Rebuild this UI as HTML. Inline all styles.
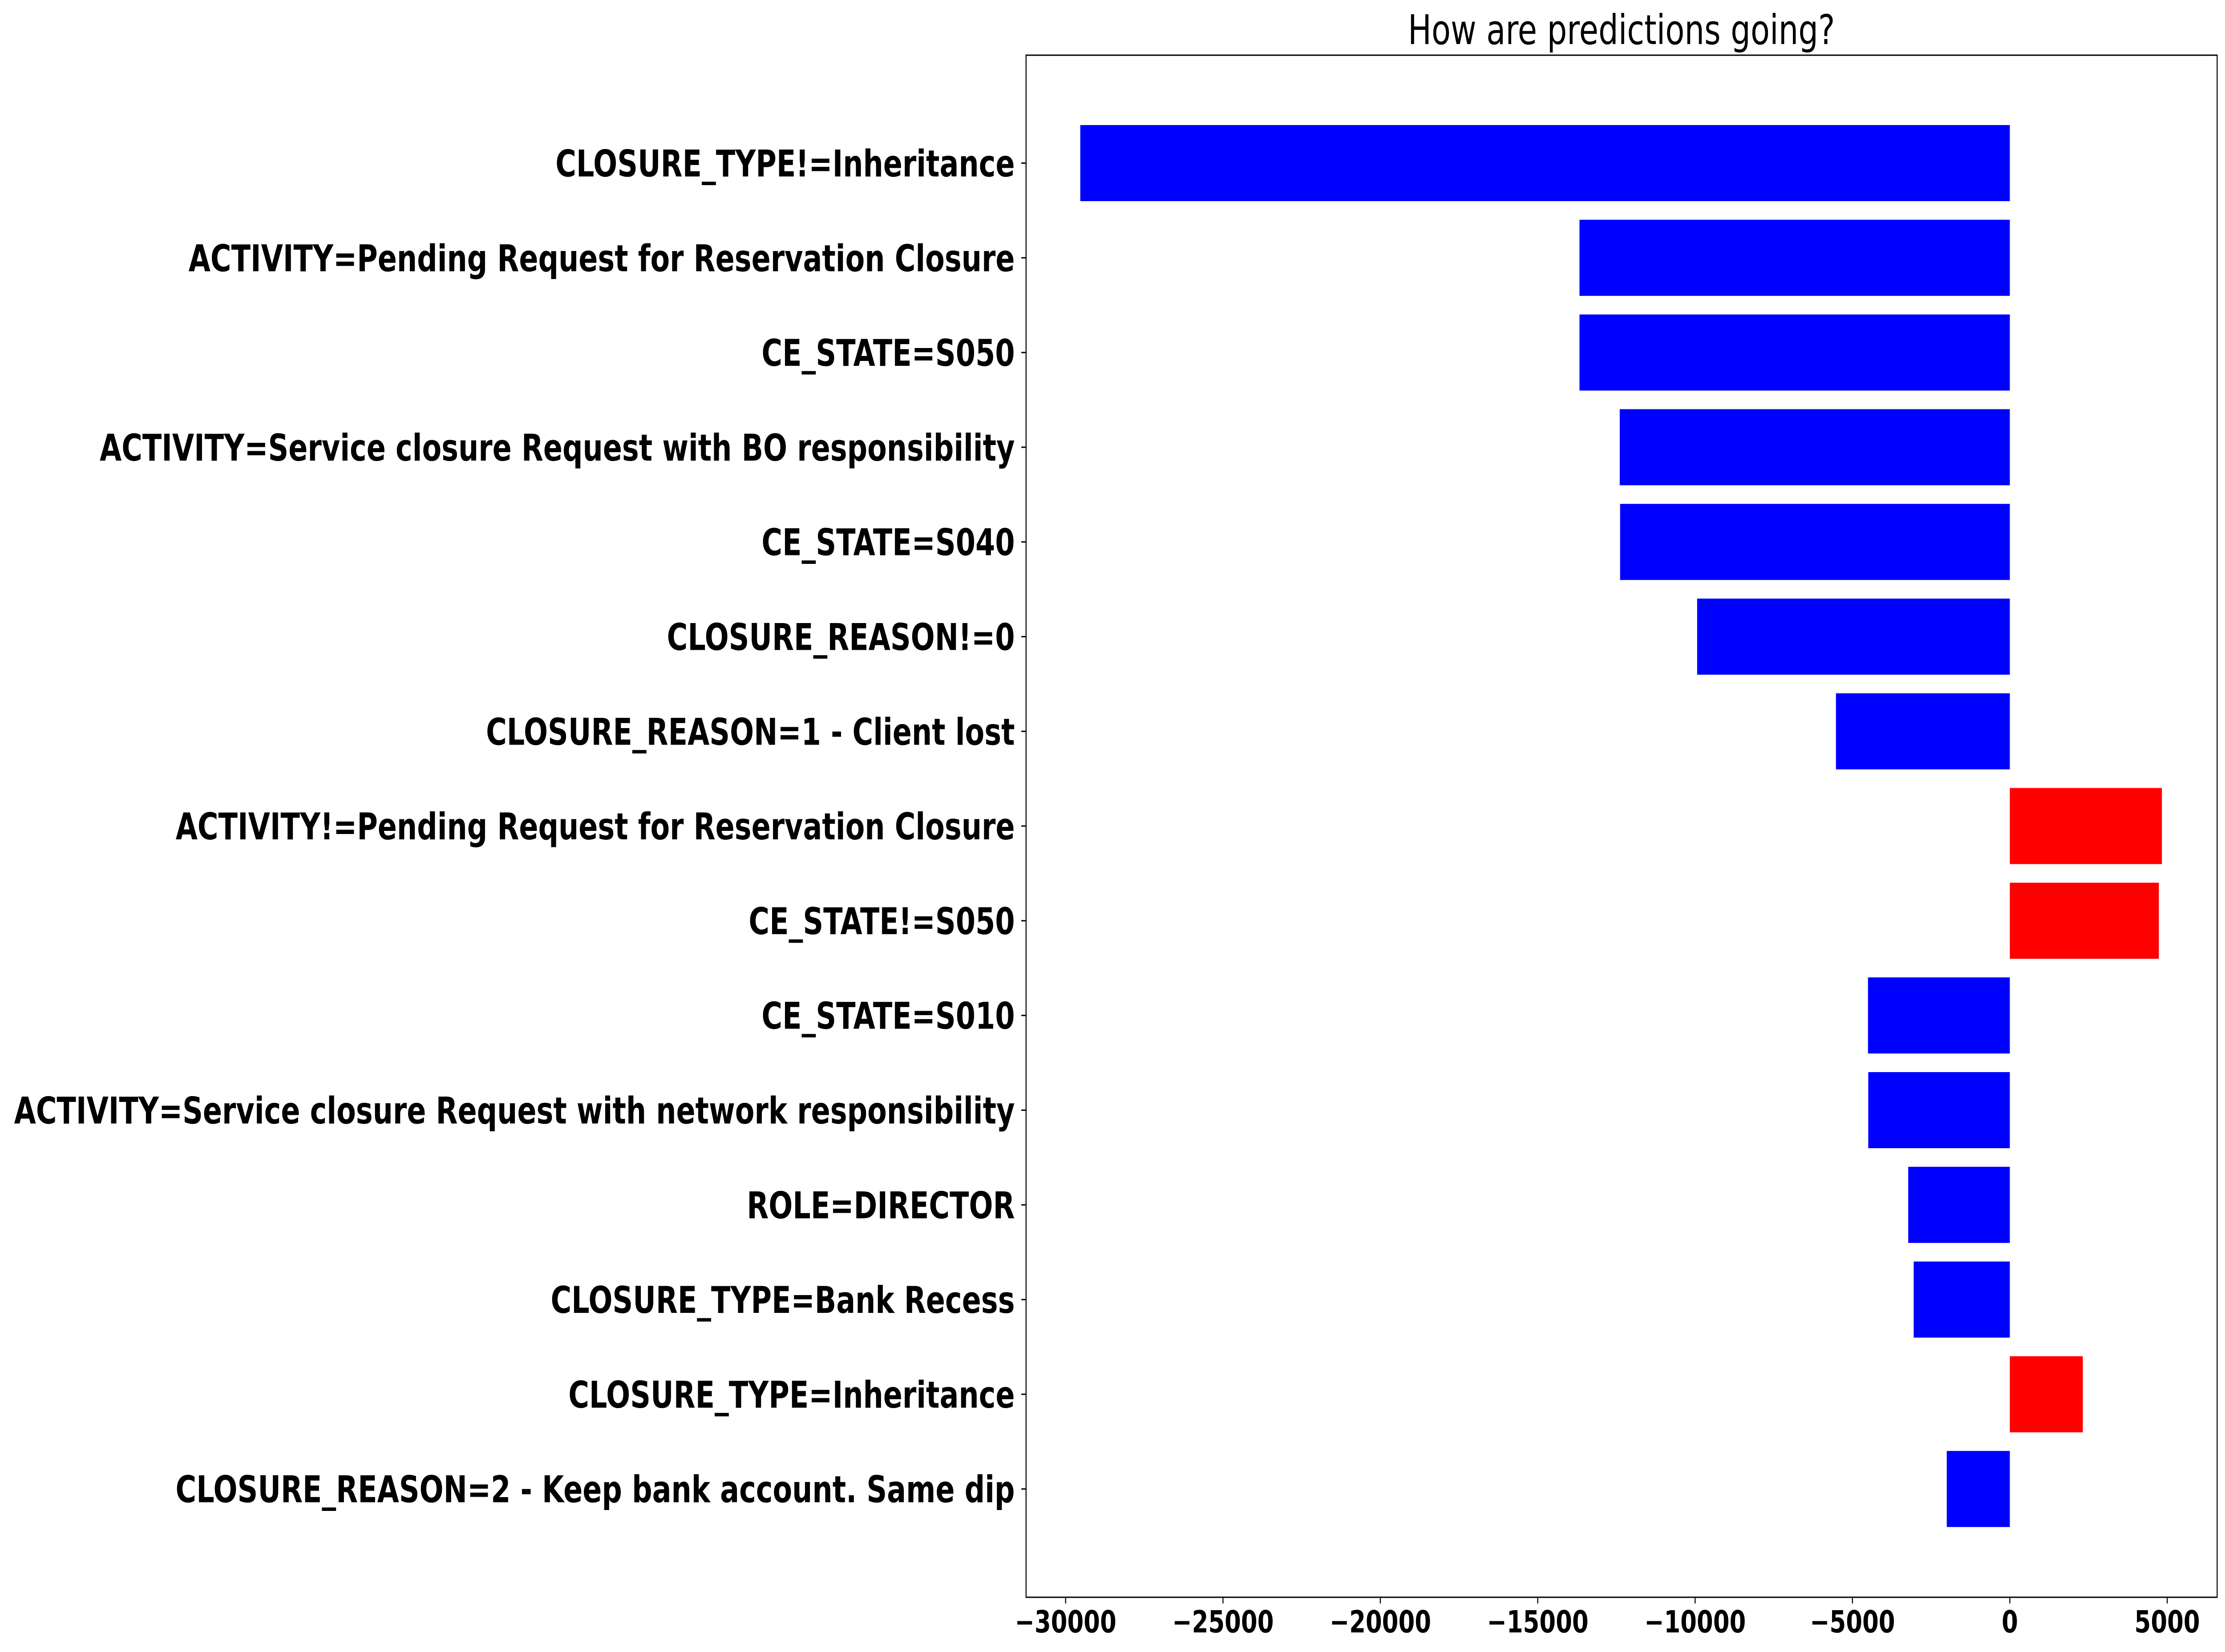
<!DOCTYPE html>
<html><head><meta charset="utf-8"><style>html,body{margin:0;padding:0;background:#fff;width:100%;height:100%;overflow:hidden}svg{display:block;width:100vw;height:100vh}</style></head>
<body>
<svg id="chart" viewBox="0 0 6525 3712" preserveAspectRatio="none" xmlns="http://www.w3.org/2000/svg" font-family="'DejaVu Sans','Liberation Sans',sans-serif">
<rect width="6525" height="3712" fill="#fff"/>
<text x="4755" y="99" font-size="92" text-anchor="middle">How are predictions going?</text>
<g id="bars"></g>
<g id="yticks"></g>
<g id="xticks"></g>
<rect x="3009" y="124" width="3493" height="3465" fill="none" stroke="#000" stroke-width="3"/>
</svg>
<script>
const categories = ["CLOSURE_TYPE!=Inheritance","ACTIVITY=Pending Request for Reservation Closure","CE_STATE=S050","ACTIVITY=Service closure Request with BO responsibility","CE_STATE=S040","CLOSURE_REASON!=0","CLOSURE_REASON=1 - Client lost","ACTIVITY!=Pending Request for Reservation Closure","CE_STATE!=S050","CE_STATE=S010","ACTIVITY=Service closure Request with network responsibility","ROLE=DIRECTOR","CLOSURE_TYPE=Bank Recess","CLOSURE_TYPE=Inheritance","CLOSURE_REASON=2 - Keep bank account. Same dip"];
const values = [-29534,-13673,-13673,-12394,-12383,-9935,-5525,4832,4735,-4507,-4498,-3228,-3055,2319,-2004];
const xTicks = [-30000,-25000,-20000,-15000,-10000,-5000,0,5000];
const xTickLabels = ["\u221230000","\u221225000","\u221220000","\u221215000","\u221210000","\u22125000","0","5000"];

const NS = "http://www.w3.org/2000/svg";
const x0 = 5894, pxPer = 461.5/5000;
function xs(v){ return x0 + v*pxPer; }
const yFirst = 366.5, pitch = 212.8, barH = 171;
function ys(i){ return yFirst + i*pitch; }
function mk(tag, attrs){ const e=document.createElementNS(NS,tag); for(const k in attrs) e.setAttribute(k,attrs[k]); return e; }

const gb = document.getElementById('bars');
const gy = document.getElementById('yticks');
const gx = document.getElementById('xticks');
categories.forEach((c,i)=>{
  const v = values[i];
  const r = mk('rect',{x:Math.min(xs(0),xs(v)), y:ys(i)-barH/2, width:Math.abs(xs(v)-xs(0)), height:barH, fill: v<0?'#0000ff':'#ff0000'});
  
  
  gb.appendChild(r);
  const t = mk('line',{x1:3009-14,x2:3009,y1:ys(i),y2:ys(i),stroke:'#000','stroke-width':3});
  
  
  gy.appendChild(t);
  const l = mk('text',{x:2976,y:ys(i)+30,'font-size':83,'font-weight':'bold','text-anchor':'end'});
  l.textContent = c;
  
  
  gy.appendChild(l);
});
xTicks.forEach((v,i)=>{
  const t = mk('line',{x1:xs(v),x2:xs(v),y1:3589,y2:3603,stroke:'#000','stroke-width':3});
  
  
  gx.appendChild(t);
  const l = mk('text',{x:xs(v),y:3668,'font-size':69,'font-weight':'bold','text-anchor':'middle'});
  l.textContent = xTickLabels[i];
  
  
  gx.appendChild(l);
});
</script>
</body></html>
